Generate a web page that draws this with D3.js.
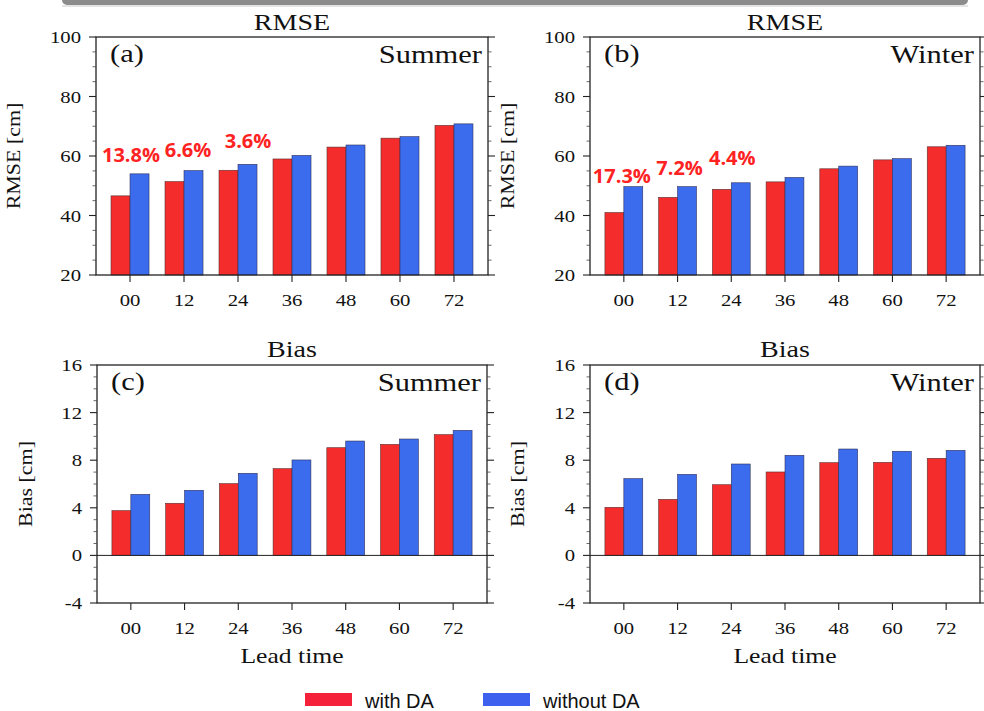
<!DOCTYPE html>
<html>
<head>
<meta charset="utf-8">
<script src="https://cdn.jsdelivr.net/npm/d3@7/dist/d3.min.js"></script>
<style>
  body { margin: 0; background: #fff; }
  svg { display: block; }
</style>
</head>
<body>
<svg id="chart" width="984" height="711"></svg>
<script>
// lead times (h)
var leadTimes = ["00", "12", "24", "36", "48", "60", "72"];

// RMSE [cm]
var rmseSummerDA   = [46.6, 51.4, 55.2, 59.0, 63.0, 66.0, 70.3];
var rmseSummerNoDA = [54.0, 55.1, 57.2, 60.2, 63.7, 66.5, 70.8];
var rmseWinterDA   = [41.0, 46.1, 48.8, 51.3, 55.7, 58.7, 63.1];
var rmseWinterNoDA = [49.7, 49.7, 51.0, 52.8, 56.6, 59.1, 63.6];

// Bias [cm]
var biasSummerDA   = [3.76, 4.38, 6.03, 7.29, 9.05, 9.33, 10.15];
var biasSummerNoDA = [5.13, 5.47, 6.90, 8.02, 9.61, 9.78, 10.51];
var biasWinterDA   = [4.04, 4.71, 5.94, 7.01, 7.79, 7.82, 8.16];
var biasWinterNoDA = [6.45, 6.81, 7.68, 8.41, 8.94, 8.75, 8.83];

var rmseTicks = [20, 40, 60, 80, 100];
var biasTicks = [-4, 0, 4, 8, 12, 16];

// improvement labels over first three lead times
var summerGain = ["13.8%", "6.6%", "3.6%"];
var winterGain = ["17.3%", "7.2%", "4.4%"];

var seriesNames = ["with DA", "without DA"];

// ---- style ----
var RED = "#f52c2c", BLUE = "#3b6cee";
var SERIF = "'Liberation Serif','Times New Roman',serif";
var SX = 1.22; // the original's lettering is wide

var svg = d3.select("#chart");

// greyish strip at the very top of the scan
svg.append("rect").attr("x", 62).attr("y", -6).attr("width", 906).attr("height", 11)
	.attr("rx", 5).attr("fill", "#8c8c8c");
svg.append("rect").attr("x", 62).attr("y", 5).attr("width", 906).attr("height", 2)
	.attr("fill", "#e4e4e4");

function wideText(g, x, y, str, size, anchor, rotate){
	return g.append("text")
		.attr("transform", "translate(" + x + "," + y + ")" + (rotate ? " rotate(-90)" : "") + " scale(" + SX + ",1)")
		.attr("text-anchor", anchor || "middle")
		.attr("font-family", SERIF)
		.attr("font-size", size)
		.attr("fill", "#111")
		.text(str);
}

var panels = [
	{ rect: [96, 37, 392, 238], tag: "(a)", season: "Summer", title: "RMSE", ylab: "RMSE [cm]",
	  dom: [20, 100], ticks: rmseTicks, minor: 5, da: rmseSummerDA, noda: rmseSummerNoDA,
	  gain: summerGain, gdx: [1, 4, 10], gdy: [-12, -14, -16], ylx: 20, xlab: false },
	{ rect: [590, 37, 390, 238], tag: "(b)", season: "Winter", title: "RMSE", ylab: "RMSE [cm]",
	  dom: [20, 100], ticks: rmseTicks, minor: 5, da: rmseWinterDA, noda: rmseWinterNoDA,
	  gain: winterGain, gdx: [-2, 2, 1], gdy: [-4, -12, -18], ylx: 514, xlab: false },
	{ rect: [97, 365, 390, 238], tag: "(c)", season: "Summer", title: "Bias", ylab: "Bias [cm]",
	  dom: [-4, 16], ticks: biasTicks, minor: 1, da: biasSummerDA, noda: biasSummerNoDA,
	  gain: null, ylx: 32, xlab: true },
	{ rect: [590, 365, 390, 238], tag: "(d)", season: "Winter", title: "Bias", ylab: "Bias [cm]",
	  dom: [-4, 16], ticks: biasTicks, minor: 1, da: biasWinterDA, noda: biasWinterNoDA,
	  gain: null, ylx: 524, xlab: true }
];

panels.forEach(function(p){
	var x0 = p.rect[0], y0 = p.rect[1], w = p.rect[2], h = p.rect[3];
	var g = svg.append("g").attr("transform", "translate(" + x0 + "," + y0 + ")");

	var x = d3.scalePoint().domain(leadTimes).range([0, w]).padding(0.63);
	var y = d3.scaleLinear().domain(p.dom).range([h, 0]);
	var bw = x.step() * 0.352;
	var base = y(Math.max(0, p.dom[0]));

	// bars
	var rows = leadTimes.map(function(t, i){ return { t: t, a: p.da[i], b: p.noda[i] }; });
	g.selectAll(".da").data(rows).enter().append("rect")
		.attr("x", function(d){ return x(d.t) - bw; })
		.attr("y", function(d){ return y(d.a); })
		.attr("width", bw)
		.attr("height", function(d){ return base - y(d.a); })
		.attr("fill", RED).attr("stroke", "#5a3030").attr("stroke-width", 0.6);
	g.selectAll(".noda").data(rows).enter().append("rect")
		.attr("x", function(d){ return x(d.t); })
		.attr("y", function(d){ return y(d.b); })
		.attr("width", bw)
		.attr("height", function(d){ return base - y(d.b); })
		.attr("fill", BLUE).attr("stroke", "#30305a").attr("stroke-width", 0.6);

	// zero line
	if (p.dom[0] < 0){
		g.append("line").attr("x1", 0).attr("x2", w).attr("y1", y(0)).attr("y2", y(0))
			.attr("stroke", "#222").attr("stroke-width", 1);
	}

	// frame
	g.append("rect").attr("width", w).attr("height", h)
		.attr("fill", "none").attr("stroke", "#222").attr("stroke-width", 1.3);

	// y ticks, both sides outward
	var minors = d3.range(p.dom[0], p.dom[1] + 0.001, p.minor).filter(function(v){ return p.ticks.indexOf(v) < 0; });
	[[0, -1], [w, 1]].forEach(function(side){
		g.selectAll(null).data(p.ticks).enter().append("line")
			.attr("x1", side[0]).attr("x2", side[0] + side[1] * 7)
			.attr("y1", function(v){ return y(v); }).attr("y2", function(v){ return y(v); })
			.attr("stroke", "#222").attr("stroke-width", 1.1);
		g.selectAll(null).data(minors).enter().append("line")
			.attr("x1", side[0]).attr("x2", side[0] + side[1] * 3.5)
			.attr("y1", function(v){ return y(v); }).attr("y2", function(v){ return y(v); })
			.attr("stroke", "#444").attr("stroke-width", 0.8);
	});
	p.ticks.forEach(function(v){
		wideText(g, -15, y(v) + 6, String(v), 17, "end");
	});

	// x ticks
	g.selectAll(null).data(leadTimes).enter().append("line")
		.attr("x1", function(d){ return x(d); }).attr("x2", function(d){ return x(d); })
		.attr("y1", h).attr("y2", h + 7)
		.attr("stroke", "#222").attr("stroke-width", 1.1);
	leadTimes.forEach(function(t){
		wideText(g, x(t), h + 31, t, 17, "middle");
	});

	// labels
	wideText(g, w / 2, y0 < 100 ? -7 : -8, p.title, 23, "middle");
	wideText(g, 14, 25, p.tag, 25, "start");
	wideText(g, w - 6, 26, p.season, 25, "end");
	wideText(svg, p.ylx, y0 + h / 2, p.ylab, 18, "middle", true);
	if (p.xlab) wideText(g, w / 2, h + 60, "Lead time", 21, "middle");

	// improvement percentages
	if (p.gain){
		p.gain.forEach(function(s, i){
			g.append("text")
				.attr("x", x(leadTimes[i]) + p.gdx[i])
				.attr("y", y(p.noda[i]) + p.gdy[i])
				.attr("text-anchor", "middle")
				.attr("font-family", "'Open Sans',sans-serif")
				.attr("font-weight", 700)
				.attr("font-size", 20)
				.attr("fill", "#f22")
				.text(s);
		});
	}
});

// legend
var legend = svg.append("g");
var legX = [305, 483];
seriesNames.forEach(function(name, i){
	legend.append("rect").attr("x", legX[i]).attr("y", 693).attr("width", 47).attr("height", 13)
		.attr("fill", i === 0 ? "#f5203a" : "#3d60ee");
	legend.append("text").attr("x", legX[i] + 60).attr("y", 708)
		.attr("font-family", "'Liberation Sans',Arial,sans-serif")
		.attr("font-size", 20).attr("fill", "#111")
		.text(name);
});
</script>
</body>
</html>
